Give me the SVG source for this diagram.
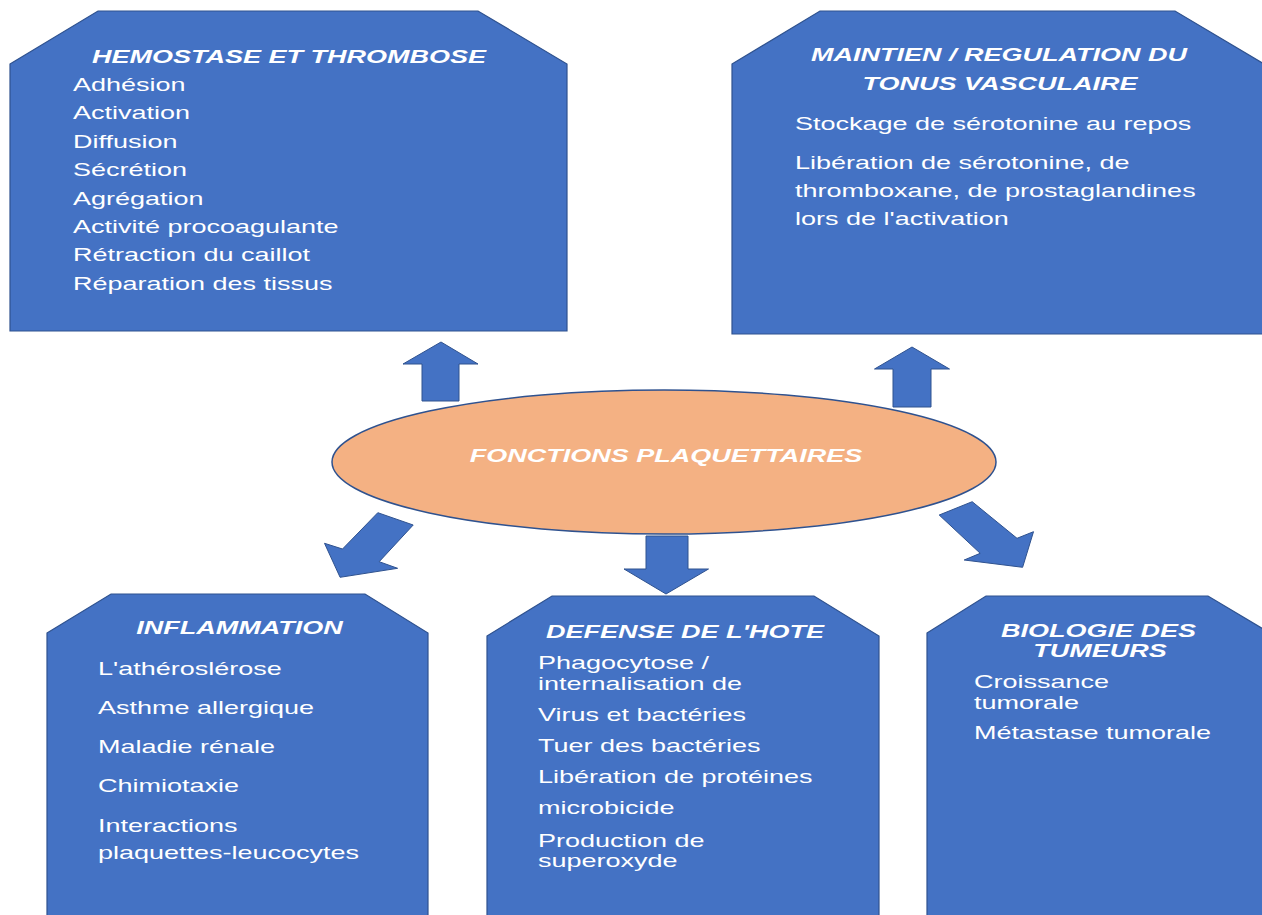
<svg xmlns="http://www.w3.org/2000/svg" width="1262" height="915" viewBox="0 0 1262 915">
  <style>
    .box { fill: #4472C4; stroke: #2F528F; stroke-width: 1.2; }
    .arrow { fill: #4472C4; stroke: #2F528F; stroke-width: 1; }
    .hub { fill: #F4B183; stroke: #2F528F; stroke-width: 1.5; }
    text { font-family: "Liberation Sans", Arial, sans-serif; font-size: 18px; fill: #FFFFFF; }
    .title { font-weight: bold; font-style: italic; text-anchor: middle; }
  </style>

  <rect x="0" y="0" width="1262" height="915" fill="#FFFFFF"/>

  <!-- connectors: block arrows around the central ellipse -->
  <g id="connectors">
    <polygon class="arrow" points="441,342 478,364 459,364 459,401 422,401 422,364 403,364"/>
    <polygon class="arrow" points="912,347 949.5,369 931,369 931,407 893,407 893,369 874.5,369"/>
    <polygon class="arrow" points="646,536 688,536 688,569 708.5,569 666,594 624,569 646,569"/>
    <polygon class="arrow" points="377.8,512.7 413.2,525 379.2,561.7 397.6,568.3 340.1,577.3 324.5,543.3 342.5,549"/>
    <polygon class="arrow" points="939.2,515 972.2,501.7 1017,538.3 1033.5,531.7 1022.6,567.3 964.2,560 980.2,553.3"/>
  </g>

  <g id="hemostase">
    <polygon class="box" points="10,64 98,11 478,11 567,64 567,331 10,331"/>
    <text class="title" transform="translate(289 63) scale(1.5 1)">HEMOSTASE ET THROMBOSE</text>
    <text transform="translate(73 91) scale(1.5 1)">Adhésion</text>
    <text transform="translate(73 119.4) scale(1.5 1)">Activation</text>
    <text transform="translate(73 147.8) scale(1.5 1)">Diffusion</text>
    <text transform="translate(73 176.2) scale(1.5 1)">Sécrétion</text>
    <text transform="translate(73 204.6) scale(1.5 1)">Agrégation</text>
    <text transform="translate(73 233) scale(1.5 1)">Activité procoagulante</text>
    <text transform="translate(73 261.4) scale(1.5 1)">Rétraction du caillot</text>
    <text transform="translate(73 289.8) scale(1.5 1)">Réparation des tissus</text>
  </g>

  <g id="tonus">
    <polygon class="box" points="732,64 820,11 1175,11 1264,64 1264,334 732,334"/>
    <text class="title" transform="translate(999 61) scale(1.5 1)">MAINTIEN / REGULATION DU</text>
    <text class="title" transform="translate(1000 90) scale(1.5 1)">TONUS VASCULAIRE</text>
    <text transform="translate(795 129.5) scale(1.5 1)">Stockage de sérotonine au repos</text>
    <text transform="translate(795 168.5) scale(1.5 1)">Libération de sérotonine, de</text>
    <text transform="translate(795 197) scale(1.5 1)">thromboxane, de prostaglandines</text>
    <text transform="translate(795 225) scale(1.5 1)">lors de l'activation</text>
  </g>

  <g id="fonctions">
    <ellipse class="hub" cx="664" cy="462" rx="332" ry="72"/>
    <text class="title" transform="translate(666 462) scale(1.5 1)">FONCTIONS PLAQUETTAIRES</text>
  </g>

  <g id="inflammation">
    <polygon class="box" points="47,633 111,594 365,594 428,633 428,920 47,920"/>
    <text class="title" transform="translate(239.5 634) scale(1.5 1)">INFLAMMATION</text>
    <text transform="translate(98 675) scale(1.5 1)">L'athéroslérose</text>
    <text transform="translate(98 714) scale(1.5 1)">Asthme allergique</text>
    <text transform="translate(98 753) scale(1.5 1)">Maladie rénale</text>
    <text transform="translate(98 792) scale(1.5 1)">Chimiotaxie</text>
    <text transform="translate(98 832) scale(1.5 1)">Interactions</text>
    <text transform="translate(98 859) scale(1.5 1)">plaquettes-leucocytes</text>
  </g>

  <g id="defense">
    <polygon class="box" points="487,636 552,596 814,596 879,636 879,920 487,920"/>
    <text class="title" transform="translate(685 638) scale(1.5 1)">DEFENSE DE L'HOTE</text>
    <text transform="translate(538 669) scale(1.5 1)">Phagocytose /</text>
    <text transform="translate(538 690) scale(1.5 1)">internalisation de</text>
    <text transform="translate(538 721) scale(1.5 1)">Virus et bactéries</text>
    <text transform="translate(538 752) scale(1.5 1)">Tuer des bactéries</text>
    <text transform="translate(538 783) scale(1.5 1)">Libération de protéines</text>
    <text transform="translate(538 814) scale(1.5 1)">microbicide</text>
    <text transform="translate(538 846.5) scale(1.5 1)">Production de</text>
    <text transform="translate(538 866.5) scale(1.5 1)">superoxyde</text>
  </g>

  <g id="tumeurs">
    <polygon class="box" points="927,633 986,596 1208,596 1270,633 1270,920 927,920"/>
    <text class="title" transform="translate(1098.5 637) scale(1.5 1)">BIOLOGIE DES</text>
    <text class="title" transform="translate(1100 657) scale(1.5 1)">TUMEURS</text>
    <text transform="translate(974 688) scale(1.5 1)">Croissance</text>
    <text transform="translate(974 709) scale(1.5 1)">tumorale</text>
    <text transform="translate(974 739) scale(1.5 1)">Métastase tumorale</text>
  </g>
</svg>
